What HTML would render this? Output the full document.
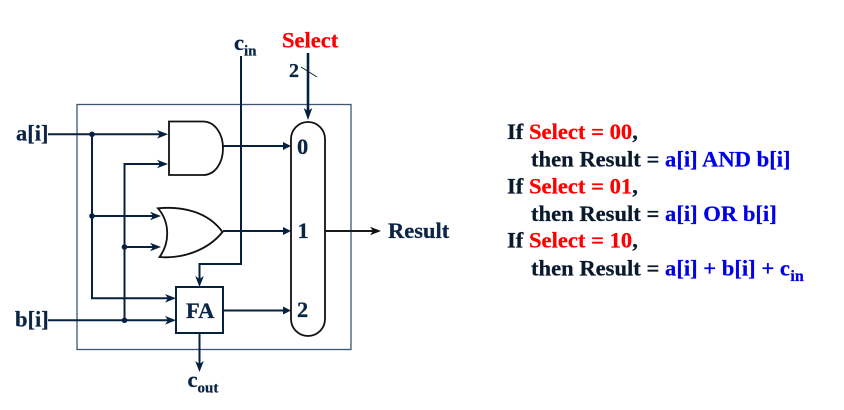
<!DOCTYPE html>
<html><head><meta charset="utf-8"><style>
html,body{margin:0;padding:0;background:#fff}
svg{display:block}
text{font-family:"Liberation Serif",serif;font-weight:bold;fill:#0b2545;stroke:#0b2545;stroke-width:.25}
.r{fill:#f00;stroke:#f00}.b{fill:#0000e6;stroke:#0000e6}.k,.k text{fill:#0a1a2e;stroke:#0a1a2e}
.k .r{fill:#f00;stroke:#f00}.k .b{fill:#0000e6;stroke:#0000e6}
</style></head><body>
<svg width="844" height="410" viewBox="0 0 844 410" xmlns="http://www.w3.org/2000/svg">
<rect x="77" y="104.5" width="274" height="245" fill="none" stroke="#3f5670" stroke-width="1.3"/>
<g fill="none" stroke="#06213f" stroke-width="2">
<path d="M48 134.3H162"/><path d="M92 134.3V298.3H169"/><path d="M162 164H124.5V320.3"/>
<path d="M48 320.3H169"/><path d="M92 216H154"/><path d="M124.5 247H154"/>
<path d="M241 56V264H199.5V280"/><path d="M199.5 333V365"/>
<path d="M223 146H284"/><path d="M223 231H284"/><path d="M223 310.5H284"/><path d="M325 231H375" stroke="#1a1a1a"/>
<path d="M308 53V112" stroke-width="2.6"/><path d="M301 67L317 77" stroke-width="1"/>
</g>
<g fill="#06213f">
<circle cx="92" cy="134.3" r="2.8"/><circle cx="92" cy="216" r="2.8"/><circle cx="124.5" cy="247" r="2.8"/><circle cx="124.5" cy="320.3" r="2.8"/>
<path d="M168 134.3L157 130L160 134.3L157 138.6Z"/><path d="M168 164L157 159.7L160 164L157 168.3Z"/>
<path d="M161 216L150 211.7L153 216L150 220.3Z"/><path d="M161 247L150 242.7L153 247L150 251.3Z"/>
<path d="M176 298.3L165 294L168 298.3L165 302.6Z"/><path d="M176 320.3L165 316L168 320.3L165 324.6Z"/>
<path d="M199.5 287L195.2 276L199.5 279L203.8 276Z"/><path d="M199.5 372L195.2 361L199.5 364L203.8 361Z"/>
<path d="M291 146L283 142V150Z"/><path d="M291 231L283 227V235Z"/><path d="M291 310.5L283 306.5V314.5Z"/>
<path d="M381 231L370 226.7L373 231L370 235.3Z" fill="#111"/>
<path d="M308 120L303.7 108L308 111L312.3 108Z"/>
</g>
<g fill="#fff" stroke="#111" stroke-width="1.8">
<path d="M169 121.5H203C215 121.5 223 134 223 148.3C223 163 215 175 203 175H169Z"/>
<path d="M158 208.3C183 206 208 212 222.5 232C208 250 183 259 159.5 257C170 243 170 222 158 208.3Z"/>
<rect x="291" y="122" width="34" height="214" rx="17" ry="17"/>
</g>
<rect x="176" y="287" width="47" height="46" fill="#fff" stroke="#06213f" stroke-width="2"/>
<g font-size="22.5">
<text x="16" y="140.7">a[i]</text>
<text x="15" y="326.7">b[i]</text>
<text x="186" y="318">FA</text>
<text x="234" y="50">c<tspan font-size="15" dy="5.5">in</tspan></text>
<text x="187.5" y="387">c<tspan font-size="15" dy="5.5">out</tspan></text>
<text x="282" y="47.3" class="r">Select</text>
<text x="289" y="77" font-size="20">2</text>
<text x="297" y="154" fill="#0b3a70">0</text>
<text x="297.5" y="238">1</text>
<text x="297" y="317">2</text>
<text x="388" y="238">Result</text>
</g>
<g font-size="22.6" class="k">
<text x="507" y="139">If <tspan class="r">Select = 00</tspan>,</text>
<text x="531" y="166.7">then Result = <tspan class="b">a[i] AND b[i]</tspan></text>
<text x="507" y="193.5">If <tspan class="r">Select = 01</tspan>,</text>
<text x="531" y="221">then Result = <tspan class="b">a[i] OR b[i]</tspan></text>
<text x="507" y="247.7">If <tspan class="r">Select = 10</tspan>,</text>
<text x="531" y="275.7">then Result = <tspan class="b">a[i] + b[i] + c<tspan font-size="16" dy="5.5" dx="0.5">in</tspan></tspan></text>
</g>
</svg>
</body></html>
